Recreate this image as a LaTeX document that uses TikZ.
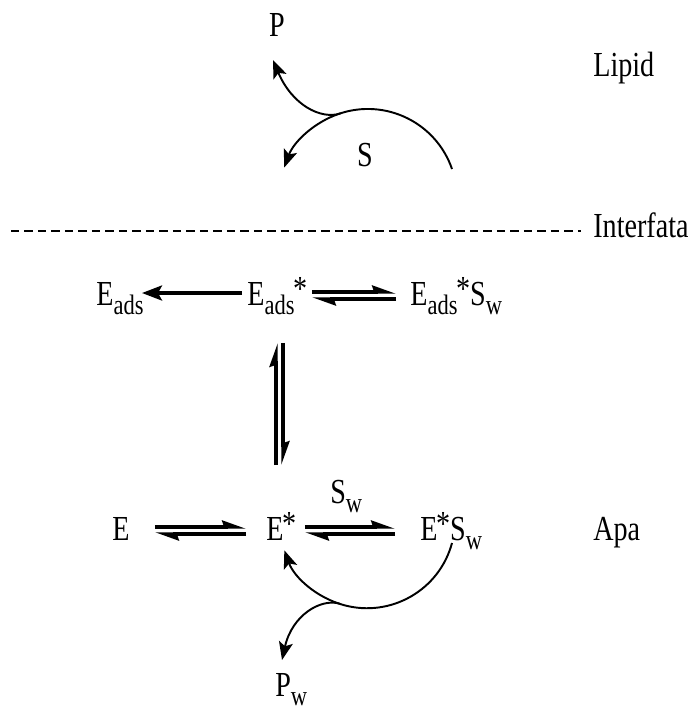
\documentclass[tikz,border=0pt]{standalone}
\usepackage{fontspec}
\setmainfont{Liberation Serif}[FakeStretch=0.8]
\usetikzlibrary{arrows.meta,positioning}

% lowered index and raised star for the species names
\newcommand{\lowtxt}[1]{\raisebox{-0.26em}{\fontsize{16}{16}\selectfont #1}}
\newcommand{\startxt}{\kern-0.04em\raisebox{0.14em}{*}}

\begin{document}
\begin{tikzpicture}[x=0.02cm, y=0.02cm,
        lbl/.style={inner sep=0pt, font=\fontsize{20}{24}\selectfont},
        rxn/.style={line width=1.1pt, -{Stealth[length=0.36cm,width=0.28cm,inset=0.08cm]}},
        oneway/.style={line width=1.9pt, -{Stealth[length=0.4cm,width=0.3cm,inset=0.08cm]}},
        harp/.style={line width=1.9pt, -{Stealth[harpoon,length=0.38cm,width=0.26cm,inset=0.04cm]}},
        dashline/.style={line width=1.1pt, dash pattern=on 0.17cm off 0.1cm}]

    \useasboundingbox (0,0) rectangle (687,-709);

    % labels of the phases
    \node[lbl, anchor=base west] (lipid) at (593,-77) {Lipid};
    \node[lbl, anchor=base west] (interf) at (593,-238) {Interfata};
    \node[lbl, anchor=base west] (apa) at (593,-540) {Apa};

    % species
    \node[lbl, anchor=base] (P) at (277,-37) {P};
    \node[lbl, anchor=base] (S) at (365,-167) {S};
    \node[lbl, anchor=base west] (Ead) at (96,-305) {E\lowtxt{ads}};
    \node[lbl, anchor=base west] (Eads) at (247,-305) {E\lowtxt{ads}\startxt};
    \node[lbl, anchor=base west] (EadsS) at (410,-305) {E\lowtxt{ads}\startxt S\lowtxt{w}};
    \node[lbl, anchor=base west] (E) at (112,-540) {E};
    \node[lbl, anchor=base west] (Es) at (266,-540) {E\startxt};
    \node[lbl, anchor=base west] (Sw) at (330,-503) {S\lowtxt{w}};
    \node[lbl, anchor=base west] (EsS) at (420,-540) {E\startxt S\lowtxt{w}};
    \node[lbl, anchor=base west] (Pw) at (275,-696) {P\lowtxt{w}};

    % interface
    \coordinate (dl) at (11,-231);
    \draw[dashline] (dl) -- (dl -| interf.west) [shorten >=0.24cm];

    % adsorbed enzyme
    \draw[oneway] ([shift={(-0.1cm,0.24cm)}]Eads.base west) -- ([shift={(0.92cm,0.24cm)}]Ead.base west);
    \draw[harp] ([shift={(1.3cm,0.26cm)}]Eads.base west) -- ([shift={(-0.28cm,0.26cm)}]EadsS.base west);
    \draw[harp] ([shift={(-0.28cm,0.12cm)}]EadsS.base west) -- ([shift={(1.3cm,0.12cm)}]Eads.base west);

    % desorption / adsorption
    \coordinate (vx) at ([xshift=0.58cm]Eads.base west);
    \coordinate (vtop) at ([yshift=-0.76cm]vx);
    \coordinate (vbot) at (vx |- Es.base west);
    \draw[harp] ([yshift=1.5cm]vbot) -- (vtop);
    \draw[harp] ([xshift=0.14cm]vtop) -- ([shift={(0.14cm,1.5cm)}]vbot);

    % enzyme in water
    \draw[harp] ([shift={(0.86cm,0.26cm)}]E.base west) -- ([shift={(-0.4cm,0.26cm)}]Es.base west);
    \draw[harp] ([shift={(-0.4cm,0.12cm)}]Es.base west) -- ([shift={(0.86cm,0.12cm)}]E.base west);
    \draw[harp] ([shift={(0.78cm,0.26cm)}]Es.base west) -- ([shift={(-0.5cm,0.26cm)}]EsS.base west);
    \draw[harp] ([shift={(-0.5cm,0.12cm)}]EsS.base west) -- ([shift={(0.78cm,0.12cm)}]Es.base west);

    % turnover in the lipid
    \coordinate (sEnd) at (452,-169);
    \coordinate (jTop) at (340.5,-113.4);
    \draw[rxn] (sEnd) arc[start angle=19, end angle=160, radius=1.78cm];
    \draw[rxn] (jTop) .. controls (321,-120) and (292,-105) .. (273,-60);

    % turnover in water
    \coordinate (wEnd) at (452,-543);
    \coordinate (jBot) at (339.8,-603.7);
    \draw[rxn] (wEnd) arc[start angle=-15, end angle=-160, radius=1.76cm];
    \draw[rxn] (jBot) .. controls (321,-598) and (292,-615) .. (282,-660);
\end{tikzpicture}
\end{document}
